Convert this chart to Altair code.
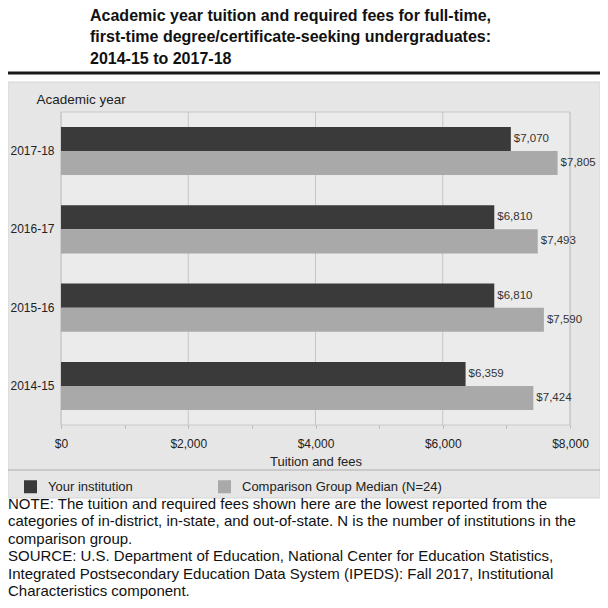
import altair as alt
import pandas as pd

years = ["2017-18", "2016-17", "2015-16", "2014-15"]
your_institution = [7070, 6810, 6810, 6359]
comparison_median = [7805, 7493, 7590, 7424]
series_names = ["Your institution", "Comparison Group Median (N=24)"]
series_colors = ["#3a3a3a", "#a9a9a9"]
x_ticks = [0, 2000, 4000, 6000, 8000]
x_minor_ticks = [0, 1000, 2000, 3000, 4000, 5000, 6000, 7000, 8000]

title_lines = [
    "Academic year tuition and required fees for full-time,",
    "first-time degree/certificate-seeking undergraduates:",
    "2014-15 to 2017-18",
]
note_lines = [
    "NOTE: The tuition and required fees shown here are the lowest reported from the",
    "categories of in-district, in-state, and out-of-state. N is the number of institutions in the",
    "comparison group.",
    "SOURCE: U.S. Department of Education, National Center for Education Statistics,",
    "Integrated Postsecondary Education Data System (IPEDS): Fall 2017, Institutional",
    "Characteristics component.",
]

FONT = "Liberation Sans"
PADL, PADT = 53, 104
W, H = 509, 313
LEFT = -PADL            # page x = 8
RIGHT = 592 - PADL      # page x = 600

rows = []
for yr, a, b in zip(years, your_institution, comparison_median):
    rows.append({"year": yr, "series": series_names[0], "value": a})
    rows.append({"year": yr, "series": series_names[1], "value": b})
df = pd.DataFrame(rows)
ticks_df = pd.DataFrame({"tick": x_ticks})
one = pd.DataFrame({"k": [0]})

# decorative backgrounds
panel = alt.Chart(one).mark_rect(fill="#e6e6e6", stroke="#d6d6d6", strokeWidth=1).encode(
    x=alt.value(LEFT), x2=alt.value(RIGHT), y=alt.value(-30), y2=alt.value(386)
)
top_rule = alt.Chart(one).mark_rule(color="#1a1a1a", strokeWidth=3).encode(
    x=alt.value(LEFT), x2=alt.value(RIGHT), y=alt.value(-39)
)
sep_rule = alt.Chart(one).mark_rule(color="#c9c9c9", strokeWidth=2).encode(
    x=alt.value(LEFT), x2=alt.value(RIGHT), y=alt.value(358)
)
plot_bg = alt.Chart(one).mark_rect(fill="#ebebeb", stroke="#c8c8c8", strokeWidth=1).encode(
    x=alt.value(0), x2=alt.value(W), y=alt.value(0), y2=alt.value(H)
)

x_scale = alt.Scale(domain=[0, 8000], nice=False, zero=True)
y_scale = alt.Scale(domain=years, paddingInner=0.385, paddingOuter=0.19)
off_scale = alt.Scale(domain=series_names, paddingInner=0, paddingOuter=0)

grid = alt.Chart(ticks_df).mark_rule(color="#c6c6c6", strokeWidth=1).encode(
    x=alt.X("tick:Q", scale=x_scale)
)

y_enc = alt.Y(
    "year:N",
    sort=years,
    scale=y_scale,
    axis=alt.Axis(
        zindex=1,
        title="Academic year",
        titleAngle=0,
        titleAlign="left",
        titleBaseline="middle",
        titleX=-25,
        titleY=-13,
        titleFont=FONT,
        titleFontSize=13.5,
        titleFontWeight="normal",
        titleColor="#222222",
        labelFont=FONT,
        labelFontSize=12,
        labelColor="#222222",
        labelPadding=7,
        ticks=False,
        domain=False,
    ),
)
x_enc = alt.X(
    "value:Q",
    scale=x_scale,
    axis=alt.Axis(
        zindex=1,
        title="Tuition and fees",
        values=x_minor_ticks,
        format="$,.0f",
        labelExpr="datum.value % 2000 == 0 ? datum.label : ''",
        labelFlush=False,
        labelOverlap=False,
        labelFont=FONT,
        labelFontSize=12,
        labelColor="#222222",
        labelPadding=10,
        tickSize=3,
        tickColor="#b8b8b8",
        domain=False,
        grid=False,
        titleFont=FONT,
        titleFontSize=13,
        titleFontWeight="normal",
        titleColor="#222222",
        titleBaseline="middle",
        titleY=36,
    ),
)

bars = alt.Chart(df).mark_bar().encode(
    y=y_enc,
    yOffset=alt.YOffset("series:N", sort=series_names, scale=off_scale),
    x=x_enc,
    color=alt.Color(
        "series:N",
        sort=series_names,
        scale=alt.Scale(domain=series_names, range=series_colors),
        legend=alt.Legend(
            title=None,
            orient="none",
            legendX=-37,
            legendY=368,
            direction="horizontal",
            symbolType="square",
            symbolSize=169,
            symbolStrokeWidth=0,
            symbolOpacity=1,
            labelFont=FONT,
            labelFontSize=13,
            labelColor="#222222",
            labelOffset=11,
            labelLimit=400,
            columnPadding=85,
            padding=0,
            zindex=1,
        ),
    ),
)

labels = alt.Chart(df).mark_text(
    align="left", baseline="middle", dx=3, font=FONT, fontSize=11.5, color="#333333"
).encode(
    y=alt.Y("year:N", sort=years, scale=y_scale),
    yOffset=alt.YOffset("series:N", sort=series_names, scale=off_scale),
    x=alt.X("value:Q", scale=x_scale),
    text=alt.Text("value:Q", format="$,.0f"),
)

notes = alt.Chart(one).mark_text(
    align="left", baseline="top", font=FONT, fontSize=15, color="#111111",
    lineBreak="\n", lineHeight=17.4,
).encode(
    x=alt.value(LEFT), y=alt.value(497 - 8 - PADT), text=alt.value("\n".join(note_lines))
)

chart = alt.layer(panel, top_rule, sep_rule, plot_bg, grid, bars, labels, notes).properties(
    width=W,
    height=H,
    padding={"left": PADL, "top": PADT, "right": 592 - PADL - W, "bottom": 592 - PADT - H},
    autosize=alt.AutoSizeParams(type="none"),
    title=alt.TitleParams(
        text=title_lines,
        anchor="start",
        frame="group",
        dx=29,
        offset=5,
        font=FONT,
        fontSize=16,
        fontWeight="bold",
        lineHeight=21.5,
        color="#111111",
    ),
).configure_view(stroke=None).configure(background="white")

chart.save("out.html", embed_options={"renderer": "svg", "actions": False})
